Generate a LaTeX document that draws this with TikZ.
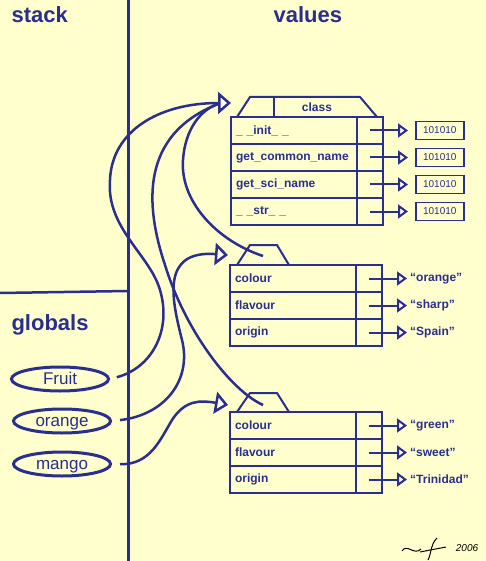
\documentclass[tikz,border=0pt]{standalone}
\usepackage{fontspec}
\setmainfont{Liberation Sans}
\usetikzlibrary{positioning,shapes.geometric,arrows.meta}

\definecolor{ink}{RGB}{42,46,142}
\definecolor{paper}{RGB}{255,255,206}

\tikzset{
  field/.style={draw, line width=2pt, outer sep=0pt, minimum width=126pt, minimum height=27pt,
    text width=116pt, inner xsep=5pt, align=left, font=\fontsize{12}{14}\selectfont\bfseries},
  slot/.style={draw, line width=2pt, outer sep=0pt, minimum width=26pt, minimum height=27pt},
  code/.style={draw, line width=1.6pt, minimum width=48pt, minimum height=18pt, inner sep=0pt,
    font=\fontsize{10}{12}\selectfont},
  val/.style={inner sep=0pt, font=\fontsize{12}{14}\selectfont\bfseries},
  var/.style={ellipse, draw, line width=3pt, minimum width=97pt, minimum height=24pt, inner sep=0pt,
    text height=12pt, text depth=2pt, font=\fontsize{17}{20}\selectfont},
  head/.style={anchor=base west, font=\fontsize{22}{26}\selectfont\bfseries},
  ptr/.style={line width=2pt, -{Triangle[fill=white, length=10pt, width=14pt]}},
  ref/.style={line width=2.5pt, -{Triangle[fill=white, length=13pt, width=22pt]}},
  link/.style={line width=2.5pt},
}

\begin{document}
\begin{tikzpicture}[x=1pt,y=-1pt,color=ink]
  \fill[paper] (0,0) rectangle (486,561);
  \useasboundingbox (0,0) rectangle (486,561);

  \node[head] (stack) at (8,23) {stack};
  \node[head] (values) at (270,23) {values};
  \node[head] (globals) at (8,330) {globals};

  \draw[line width=3pt] (128,0) -- (128,561);
  \draw[line width=2.5pt] (0,293) -- (128,291);

  \node[var] (fruit) at (60,379) {Fruit};
  \node[var] (orange) at (62,421) {orange};
  \node[var] (mango) at (62,464) {mango};

  % class
  \draw[line width=2pt] (237,117) -- (250,97) -- (360,97) -- (377,117);
  \draw[line width=2pt] (274,97) -- (274,117);
  \node[val] (cls) at (317,107) {class};
  \node[field, anchor=north west] (init) at (231,117) {\_ \_init\_ \_};
  \node[field, below=0pt of init] (common) {get\_common\_name};
  \node[field, below=0pt of common] (sci) {get\_sci\_name};
  \node[field, below=0pt of sci] (str) {\_ \_str\_ \_};
  \foreach \f in {init,common,sci,str} {
    \node[slot, right=0pt of \f] (\f-s) {};
    \node[code, right=32pt of \f-s] (\f-c) {101010};
    \draw[ptr, shorten >=7pt] (\f-s.center) -- (\f-c.west);
  }

  % orange
  \draw[line width=2pt] (237,265) -- (250,245) -- (277,245) -- (289,265);
  \node[field, anchor=north west] (ocol) at (230,265) {colour};
  \node[field, below=0pt of ocol] (oflav) {flavour};
  \node[field, below=0pt of oflav] (oorig) {origin};
  \foreach \f/\v in {ocol/“orange”,oflav/“sharp”,oorig/“Spain”} {
    \node[slot, right=0pt of \f] (\f-s) {};
    \node[val, right=28pt of \f-s] (\f-v) {\v};
    \draw[ptr, shorten >=3pt] (\f-s.center) -- (\f-v.west);
  }

  % mango
  \draw[line width=2pt] (237,412) -- (250,393) -- (277,393) -- (289,412);
  \node[field, anchor=north west] (mcol) at (230,412) {colour};
  \node[field, below=0pt of mcol] (mflav) {flavour};
  \node[field, below=0pt of mflav] (morig) {origin};
  \foreach \f/\v in {mcol/“green”,mflav/“sweet”,morig/“Trinidad”} {
    \node[slot, right=0pt of \f] (\f-s) {};
    \node[val, right=28pt of \f-s] (\f-v) {\v};
    \draw[ptr, shorten >=3pt] (\f-s.center) -- (\f-v.west);
  }

  \coordinate (clsptr) at (231,103);
  \coordinate (clsin) at (218,104);
  \coordinate (optr) at (228,255);
  \coordinate (mptr) at (228,405);
  \coordinate (otab) at (263,256);
  \coordinate (mtab) at (263,405);

  \draw[ref, shorten <=7pt] (fruit.east) .. controls (152,368) and (172,330) .. (160,290)
    .. controls (150,255) and (106,228) .. (110,180)
    .. controls (112,130) and (160,103) .. (clsptr);
  \draw[link] (otab) .. controls (215,240) and (180,200) .. (183,160)
    .. controls (185,130) and (200,110) .. (clsin);
  \draw[link] (mtab) .. controls (230,390) and (185,330) .. (165,265)
    .. controls (145,205) and (140,135) .. (clsin);
  \draw[ref, shorten <=8pt] (orange.east) .. controls (165,415) and (192,380) .. (182,340)
    .. controls (172,300) and (160,250) .. (optr);
  \draw[ref, shorten <=8pt] (mango.east) .. controls (150,465) and (160,440) .. (172,420)
    .. controls (185,400) and (200,400) .. (mptr);

  \draw[black, line width=1pt] (402,551) .. controls (407,543) and (414,556) .. (421,549);
  \draw[black, line width=1pt] (420,552) -- (446,547);
  \draw[black, line width=1pt] (437,538) .. controls (430,545) and (432,552) .. (428,560);
  \node[black, font=\itshape\fontsize{10}{12}\selectfont] (year) at (467,548) {2006};
\end{tikzpicture}
\end{document}
